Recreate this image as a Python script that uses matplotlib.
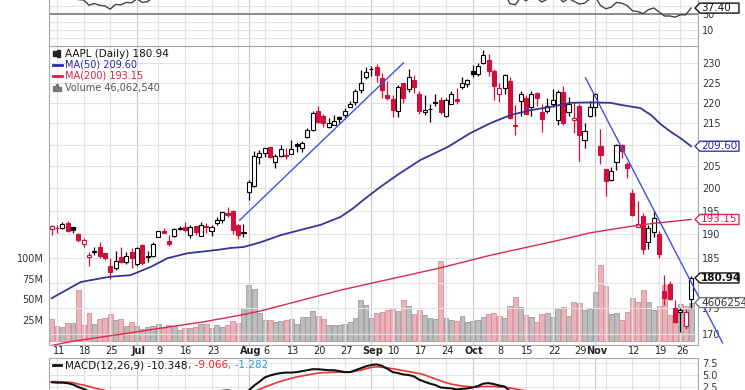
import matplotlib
matplotlib.use("Agg")
import matplotlib.pyplot as plt
from matplotlib.patches import Polygon, Rectangle
from matplotlib.ticker import FixedLocator, NullLocator
from matplotlib.transforms import blended_transform_factory

# --- AAPL daily, 2018-06-08 .. 2018-11-28 (x = trading day index) ---
prev_close = 193.46  # close before the first bar (Jun 7)

opens = [
    191.17,
    191.35, 191.39, 192.42, 191.55, 190.03,
    187.88, 185.14, 186.35, 187.25, 186.12,
    183.40, 182.99, 185.23, 184.10, 186.29,
    183.82, 187.79, 185.26, 185.42,
    189.50, 190.71, 188.50, 189.53, 191.08,
    191.52, 189.75, 191.78, 189.69, 191.78,
    190.68, 192.45, 193.06, 194.61, 194.99,
    191.90, 190.30, 199.13, 200.58, 207.03,
    208.00, 209.32, 206.05, 207.28, 207.36,
    207.70, 210.16, 209.22, 211.75, 213.44,
    218.10, 216.80, 214.10, 214.65, 216.60,
    217.15, 219.01, 220.15, 223.25, 226.51,
    228.41, 228.99, 226.23, 221.85,
    220.95, 218.01, 224.94, 223.52, 225.75,
    222.15, 217.79, 218.50, 220.24, 220.78,
    216.82, 219.75, 221.00, 223.82, 224.79,
    227.95, 227.25, 230.05, 230.78, 227.96,
    222.21, 223.64, 225.46, 214.52, 220.42,
    221.16, 218.93, 222.30, 217.86, 218.06,
    219.79, 215.83, 222.60, 217.71, 215.90,
    219.19, 211.15, 216.88, 219.05, 209.55,
    204.30, 201.92, 205.97, 209.98, 205.55,
    199.00, 191.63, 193.90, 188.39, 190.50,
    190.00, 178.37, 179.73, 174.94,
    174.24, 171.51, 176.73,
]
highs = [
    192.00,
    191.97, 192.61, 192.88, 191.57, 190.16,
    189.22, 186.33, 187.20, 188.35, 186.15,
    184.92, 186.53, 187.28, 186.21, 187.19,
    187.30, 187.95, 186.41, 188.43,
    190.68, 191.28, 189.78, 191.41, 191.84,
    192.65, 191.87, 191.80, 192.55, 192.43,
    191.96, 193.66, 194.85, 195.96, 195.19,
    192.20, 192.14, 201.76, 208.38, 208.74,
    209.25, 209.50, 207.81, 209.78, 209.10,
    210.95, 210.56, 210.74, 213.81, 217.95,
    219.18, 217.19, 216.36, 217.05, 216.90,
    218.74, 220.54, 223.49, 228.26, 228.87,
    229.18, 229.67, 227.35, 225.37,
    221.85, 224.30, 225.00, 228.35, 226.84,
    222.95, 221.85, 219.62, 222.28, 221.36,
    221.26, 222.82, 223.75, 226.44, 225.84,
    229.42, 230.00, 233.47, 232.35, 228.41,
    224.80, 227.27, 226.35, 219.50, 222.88,
    221.83, 222.99, 222.64, 219.74, 221.26,
    223.36, 223.25, 224.23, 221.38, 220.19,
    219.69, 215.18, 220.45, 222.36, 213.65,
    204.39, 204.72, 210.06, 210.12, 206.01,
    199.85, 197.18, 194.48, 191.97, 194.97,
    190.70, 181.47, 180.27, 176.60,
    174.95, 174.77, 181.29,
]
lows = [
    189.77,
    190.21, 191.15, 190.44, 190.22, 188.26,
    187.20, 183.45, 185.73, 184.94, 184.70,
    180.73, 182.54, 184.03, 183.80, 182.91,
    183.42, 183.54, 184.28, 185.20,
    189.30, 190.18, 187.61, 189.31, 190.90,
    190.42, 189.20, 189.93, 189.69, 190.17,
    189.56, 192.05, 192.43, 193.61, 190.10,
    189.07, 189.34, 197.31, 200.35, 205.48,
    207.07, 206.76, 204.52, 207.20, 206.67,
    207.70, 208.26, 208.33, 211.47, 213.16,
    215.11, 214.03, 213.84, 214.60, 215.11,
    216.33, 218.92, 219.41, 222.40, 226.00,
    226.63, 225.10, 221.30, 220.71,
    216.47, 216.56, 219.84, 222.57, 222.52,
    217.27, 217.12, 215.30, 219.15, 217.29,
    216.63, 219.70, 219.76, 223.54, 224.02,
    226.35, 226.63, 229.78, 226.73, 220.58,
    220.20, 222.25, 216.05, 212.32, 216.84,
    217.27, 216.76, 219.34, 213.00, 217.43,
    218.94, 214.70, 214.54, 216.75, 212.67,
    206.09, 209.27, 216.62, 216.81, 205.43,
    198.17, 201.69, 204.13, 206.75, 202.25,
    193.79, 191.45, 185.93, 186.90, 189.46,
    184.99, 175.51, 176.55, 172.10,
    170.26, 170.88, 174.93,
]
closes = [
    191.70,
    191.23, 192.28, 190.70, 190.80, 188.84,
    188.74, 185.69, 186.50, 185.46, 184.92,
    182.17, 184.43, 184.16, 185.50, 185.11,
    187.18, 183.92, 185.40, 187.97,
    190.58, 190.35, 187.88, 191.03, 191.33,
    190.91, 191.45, 190.40, 191.88, 191.44,
    191.61, 193.00, 194.82, 194.21, 190.98,
    189.91, 190.29, 201.50, 207.39, 207.99,
    209.07, 207.11, 207.25, 208.88, 207.53,
    208.87, 209.75, 210.24, 213.32, 217.58,
    215.46, 215.04, 215.05, 215.49, 216.16,
    217.94, 219.70, 222.98, 225.03, 227.63,
    228.36, 226.87, 223.10, 221.30,
    218.33, 223.85, 221.07, 226.41, 223.84,
    217.88, 218.24, 218.37, 220.03, 217.66,
    220.79, 222.19, 220.42, 224.95, 225.74,
    227.26, 229.28, 232.07, 227.99, 224.29,
    223.77, 226.87, 216.36, 214.45, 222.11,
    217.36, 222.15, 221.19, 216.02, 219.31,
    220.65, 222.73, 215.09, 219.80, 216.30,
    212.24, 213.30, 218.86, 222.22, 207.48,
    201.59, 203.77, 209.95, 208.49, 204.47,
    194.17, 192.23, 186.80, 191.41, 193.53,
    185.86, 176.98, 176.78, 172.29,
    174.62, 174.24, 180.94,
]
volumes = [  # millions of shares
    26.7,
    18.3, 16.9, 21.6, 21.6, 61.7,
    18.5, 33.5, 20.6, 25.7, 27.2,
    31.7, 24.6, 25.9, 17.4, 22.7,
    17.7, 13.9, 16.6, 17.5,
    19.8, 15.9, 18.8, 18.0, 12.5,
    15.0, 15.5, 16.4, 20.3, 20.7,
    15.9, 18.7, 16.8, 19.1, 24.0,
    21.0, 39.4, 67.9, 62.4, 33.4,
    25.4, 25.4, 22.5, 23.5, 24.6,
    25.9, 20.7, 28.8, 28.5, 35.4,
    30.3, 26.2, 19.0, 18.9, 18.5,
    20.5, 22.8, 27.3, 48.8, 43.3,
    27.4, 33.3, 34.3, 37.6,
    39.5, 35.7, 49.3, 41.7, 31.9,
    37.2, 31.6, 27.1, 26.6, 96.2,
    27.7, 24.6, 24.0, 30.2, 22.9,
    23.6, 24.8, 28.7, 32.0, 33.6,
    29.7, 26.9, 42.0, 53.1, 40.3,
    30.8, 29.2, 22.9, 32.6, 33.1,
    28.8, 38.7, 40.9, 29.9, 47.3,
    45.9, 36.7, 38.4, 58.3, 91.3,
    66.2, 31.9, 33.4, 25.4, 34.4,
    51.1, 46.9, 60.8, 46.5, 36.9,
    41.9, 67.8, 31.1, 23.6,
    44.9, 41.4, 46.1,
]

# moving averages
ma50_idx = [0, 5.4, 7.3, 11, 14.8, 18.6, 21.8, 25.5, 31.1, 33.6, 36, 37.3, 39.2, 43,
            46.7, 50.5, 54.2, 56.5, 58.5, 61.7, 64.9, 69.2, 74.3, 78.6, 82.4, 86.1, 89.9,
            93.6, 97.4, 101.1, 104.9, 106.8, 110.5, 112.5, 114.3, 116.3, 118, 120]
ma50_vals = [176.9, 180.1, 180.5, 181.2, 181.5, 183.2, 185.0, 186.0, 186.7, 187.1, 187.3,
             187.7, 188.3, 189.8, 190.9, 192.0, 193.7, 195.5, 197.4, 200.3, 203.0, 206.4,
             209.4, 212.7, 215.1, 217.0, 218.2, 219.0, 220.0, 220.1, 220.0, 219.5, 218.7,
             217.0, 214.8, 212.9, 211.5, 209.6]
ma200_idx = [0, 3.9, 14.8, 21.8, 28, 35.5, 39.2, 54.2, 73, 82.4, 95.5, 101.1, 110.5, 120]
ma200_vals = [167.8, 168.6, 170.2, 171.3, 172.2, 173.6, 174.4, 178.5, 183.0, 185.6, 188.8,
              190.3, 192.0, 193.15]

# hand-drawn trend lines (start/end index, start/end price)
trend_idx = [[35.3, 66.0], [100.2, 125.9]]
trend_px = [[193.0, 230.0], [226.2, 168.3]]

rsi = [
    58,
    56, 59, 53, 54, 48,
    47.5, 41, 43, 41, 40,
    36, 42, 41.5, 44.5, 44,
    49, 44.5, 45.5, 51,
    56, 55, 50, 56, 57,
    56, 57, 55, 57, 56,
    57, 60, 63, 61, 52,
    50, 51, 70, 76, 77,
    78, 74, 74, 75, 72,
    74, 75, 75, 78, 82,
    76, 75, 75, 75, 76,
    78, 80, 83, 85, 86,
    86, 80, 70, 66,
    60, 67, 63, 68, 63,
    53, 54, 54, 57, 53,
    57, 59, 56, 62, 63,
    64, 66, 69, 59, 53,
    52, 56, 43, 41.5, 51,
    46.5, 51, 50, 45, 48.5,
    50, 52, 45, 49.5, 46,
    42.5, 43.5, 49, 52, 40.5,
    36.5, 38.5, 44.5, 43.5, 40.5,
    34, 33, 30.5, 35.5, 37.5,
    32.5, 27.5, 27.5, 26,
    29, 29, 37.4,
]
macd = [
    3.5,
    3.4, 3.4, 3.3, 3.0, 2.5,
    2.1, 1.6, 1.2, 0.8, 0.5,
    0.0, -0.2, -0.4, -0.5, -0.6,
    -0.5, -0.7, -0.7, -0.5,
    -0.2, 0.0, 0.0, 0.3, 0.5,
    0.6, 0.8, 0.8, 1.0, 1.1,
    1.2, 1.4, 1.7, 1.8, 1.6,
    1.3, 1.1, 1.8, 2.8, 3.6,
    4.5, 4.9, 5.2, 5.4, 5.5,
    5.5, 5.6, 5.8, 6.0, 6.2,
    6.2, 6.1, 6.0, 6.0, 5.8,
    5.6, 5.6, 6.0, 6.4, 6.8,
    7.1, 7.2, 6.9, 6.3,
    5.6, 5.4, 5.1, 5.0, 4.7,
    4.0, 3.6, 3.2, 2.9, 2.4,
    2.3, 2.2, 2.0, 2.1, 2.2,
    2.4, 2.7, 3.2, 3.3, 3.1,
    2.8, 2.6, 1.6, 1.0, 0.9,
    0.5, 0.5, 0.4, -0.1, -0.2,
    -0.2, -0.1, -0.6, -0.6, -1.0,
    -1.6, -1.9, -1.7, -1.2, -2.5,
    -3.9, -4.7, -4.8, -4.9, -5.3,
    -6.4, -7.4, -8.6, -9.0, -9.0,
    -9.8, -11.0, -11.8, -12.6,
    -12.0, -11.5, -10.348,
]
signal = [
    3.6,
    3.6, 3.55, 3.5, 3.4, 3.1,
    2.9, 2.6, 2.3, 2.0, 1.8,
    1.5, 1.2, 1.0, 0.7, 0.5,
    0.3, 0.1, 0.0, -0.1,
    -0.1, -0.1, -0.1, 0.0, 0.1,
    0.2, 0.3, 0.4, 0.5, 0.6,
    0.7, 0.8, 1.0, 1.1, 1.2,
    1.2, 1.2, 1.3, 1.6, 2.0,
    2.5, 2.9, 3.3, 3.7, 4.0,
    4.3, 4.6, 4.8, 5.0, 5.2,
    5.4, 5.5, 5.5, 5.6, 5.6,
    5.6, 5.6, 5.8, 6.0, 6.3,
    6.6, 6.7, 6.6, 6.5,
    6.3, 6.1, 5.9, 5.7, 5.5,
    5.3, 5.0, 4.6, 4.2, 3.8,
    3.4, 3.1, 2.9, 2.7, 2.6,
    2.5, 2.5, 2.6, 2.6, 2.6,
    2.5, 2.5, 2.3, 2.1, 1.9,
    1.7, 1.5, 1.3, 1.0, 0.8,
    0.6, 0.4, 0.2, 0.0, -0.2,
    -0.5, -0.8, -1.0, -1.0, -1.3,
    -1.8, -2.3, -2.8, -3.2, -3.6,
    -4.2, -4.8, -5.5, -6.2, -6.7,
    -7.3, -7.9, -8.4, -8.9,
    -9.1, -9.1, -9.066,
]

# x axis labels and grid
date_idx = [1, 6, 11, 16, 20, 25, 30, 37, 40, 45, 50, 55, 60, 64, 69, 74, 79, 84,
            89, 94, 99, 102, 109, 114, 118]
date_txt = ["11", "18", "25", "Jul", "9", "16", "23", "Aug", "6", "13", "20", "27",
            "Sep", "10", "17", "24", "Oct", "8", "15", "22", "29", "Nov", "12", "19", "26"]
month_idx = [16, 37, 60, 79, 102]
week_idx = [1, 6, 11, 20, 25, 30, 35, 40, 45, 50, 55, 64, 69, 74, 84, 89, 94, 99, 104,
            109, 114, 118]
price_grid = [170, 175, 180, 185, 190, 195, 200, 205, 210, 215, 220, 225, 230]
price_labels = [170, 175, 185, 190, 195, 200, 205, 215, 220, 225, 230]  # 180/210 sit under tags
vol_ticks = [25, 50, 75, 100]

n = len(closes)
for arr in (opens, highs, lows, volumes, rsi, macd, signal):
    assert len(arr) == n, len(arr)

W_PX, H_PX = 745, 390
RED = "#d0103a"
GRID = "#e2e2e2"
MGRID = "#c8c8c8"
SPINE = "#a8a8a8"
TXT = "#333333"
plt.rcParams["font.family"] = "DejaVu Sans"

fig = plt.figure(figsize=(W_PX / 100, H_PX / 100), dpi=100)
left, width = 49 / W_PX, (698 - 49) / W_PX
xlim = (-0.5, 121.3)

ax_rsi = fig.add_axes([left, 1 - 46 / H_PX, width, 88 / H_PX])
ax = fig.add_axes([left, 1 - 345 / H_PX, width, 299 / H_PX])
ax_v = ax.twinx()
ax_m = fig.add_axes([left, 1 - 450 / H_PX, width, 92 / H_PX])


def frame(a):
    for s in a.spines.values():
        s.set_color(SPINE)
        s.set_linewidth(0.8)
    a.set_xlim(*xlim)
    a.xaxis.set_major_locator(NullLocator())
    for i in week_idx:
        a.axvline(i, color=GRID, lw=0.8, zorder=0)
    for i in month_idx:
        a.axvline(i, color=MGRID, lw=0.8, zorder=0)


for a in (ax_rsi, ax, ax_m):
    frame(a)

# ---------------- price panel ----------------
ax.set_zorder(2)
ax.patch.set_visible(False)
ax_v.set_zorder(1)
ax.set_yscale("log")
ax.set_ylim(167.9, 234.4)
ax.yaxis.set_major_locator(FixedLocator(price_labels))
ax.yaxis.set_minor_locator(NullLocator())
ax.set_yticklabels([str(t) for t in price_labels])
ax.yaxis.tick_right()
ax.tick_params(axis="y", length=0, pad=3, labelsize=7, labelcolor=TXT)
for t in price_grid:
    ax.axhline(t, color=GRID, lw=0.8, zorder=0)

prev = [prev_close] + closes[:-1]
for i in range(n):
    o, h, l, c = opens[i], highs[i], lows[i], closes[i]
    col = RED if c < prev[i] else "black"
    face = "white" if c >= o else col
    ax.vlines(i, l, h, color=col, lw=0.9, zorder=3)
    lo, hi = min(o, c), max(o, c)
    if hi - lo < 0.15:
        hi = lo + 0.15
    ax.add_patch(Rectangle((i - 0.38, lo), 0.76, hi - lo, facecolor=face,
                           edgecolor=col, lw=0.8, zorder=4))

ax.plot(ma50_idx, ma50_vals, color="#35359a", lw=1.3, zorder=5)
ax.plot(ma200_idx, ma200_vals, color="#e0284a", lw=1.0, zorder=5)
for xs, ys in zip(trend_idx, trend_px):
    ax.plot(xs, ys, color="#3d4fe8", lw=1.0, zorder=6, clip_on=False)

# volume overlay
vcols = [("#e9b3ba", "#d98c97") if closes[i] < prev[i] else ("#bdbdbd", "#9c9c9c")
         for i in range(n)]
ax_v.bar(range(n), volumes, width=0.92, color=[c[0] for c in vcols],
         edgecolor=[c[1] for c in vcols], lw=0.6)
ax_v.set_ylim(-5.2, 356.4)
ax_v.yaxis.set_major_locator(FixedLocator(vol_ticks))
ax_v.set_yticklabels([f"{t}M" for t in vol_ticks])
ax_v.yaxis.set_ticks_position("left")
ax_v.tick_params(axis="y", length=0, pad=4, labelsize=7, labelcolor=TXT)
ax_v.xaxis.set_major_locator(NullLocator())
for s in ax_v.spines.values():
    s.set_visible(False)

# legend block
ax.text(16 / 649, 1 - 8 / 299, "AAPL (Daily) 180.94", transform=ax.transAxes,
        fontsize=7.5, color="#111111", va="center", zorder=7)
ax.text(16 / 649, 1 - 19 / 299, "MA(50) 209.60", transform=ax.transAxes,
        fontsize=7, color="#2a2aa8", va="center", zorder=7)
ax.text(16 / 649, 1 - 30 / 299, "MA(200) 193.15", transform=ax.transAxes,
        fontsize=7, color="#d81e46", va="center", zorder=7)
ax.text(16 / 649, 1 - 42 / 299, "Volume 46,062,540", transform=ax.transAxes,
        fontsize=7, color="#555555", va="center", zorder=7)
for k, hh in enumerate([5, 7]):
    ax.add_patch(Rectangle(((53 + 4 * k - 49) / 649, 1 - (8 + hh / 2) / 299), 3 / 649,
                           hh / 299, transform=ax.transAxes, color="#222222", zorder=7))
ax.plot([4 / 649, 13 / 649], [1 - 19 / 299] * 2, transform=ax.transAxes, color="#2a2aa8", lw=2, zorder=7)
ax.plot([4 / 649, 13 / 649], [1 - 30 / 299] * 2, transform=ax.transAxes, color="#d81e46", lw=2, zorder=7)
for k, hh in enumerate([5, 7, 4]):
    ax.add_patch(Rectangle(((53 + 3 * k - 49) / 649, 1 - 45 / 299), 2 / 649, hh / 299,
                           transform=ax.transAxes, color="#777777", zorder=7))

# date labels
bt = blended_transform_factory(ax.transData, fig.transFigure)
for i, t in zip(date_idx, date_txt):
    bold = t in ("Jul", "Aug", "Sep", "Oct", "Nov")
    ax.text(i + 0.3, 1 - 351 / H_PX, t, transform=bt, ha="center", va="center", fontsize=7,
            color="#222222", fontweight="bold" if bold else "normal", clip_on=False)

# ---------------- RSI panel ----------------
ax_rsi.set_ylim(-10, 100)
for v in range(0, 100, 10):
    ax_rsi.axhline(v, color=GRID, lw=0.8, zorder=0)
ax_rsi.axhline(30, color="#7a7a7a", lw=1.2, zorder=1)
ax_rsi.plot(range(n), rsi, color="#444444", lw=1.0, zorder=3)
ax_rsi.yaxis.set_major_locator(FixedLocator([10, 30]))
ax_rsi.yaxis.tick_right()
ax_rsi.tick_params(axis="y", length=0, pad=3, labelsize=7, labelcolor=TXT)

# ---------------- MACD panel ----------------
ax_m.set_ylim(-10.63, 8.54)
for v in [7.5, 5.0, 2.5, 0.0, -2.5, -5.0, -7.5, -10.0]:
    ax_m.axhline(v, color=GRID, lw=0.8, zorder=0)
ax_m.plot(range(n), signal, color="#ee3333", lw=1.2, zorder=3)
ax_m.plot(range(n), macd, color="#111111", lw=1.5, zorder=4)
ax_m.yaxis.set_major_locator(FixedLocator([7.5, 5.0, 2.5]))
ax_m.set_yticklabels(["7.5", "5.0", "2.5"])
ax_m.yaxis.tick_right()
ax_m.tick_params(axis="y", length=0, pad=3, labelsize=7, labelcolor=TXT)

mt = ax_m.text(65 / W_PX, 1 - 365 / H_PX, "MACD(12,26,9) -10.348", transform=fig.transFigure,
               fontsize=7.5, color="#111111", va="center", zorder=7)
m2 = ax_m.annotate(", -9.066", xy=(1, 0), xycoords=mt, va="bottom", fontsize=7.5,
                   color="#ee2222", zorder=7)
ax_m.annotate(", -1.282", xy=(1, 0), xycoords=m2, va="bottom", fontsize=7.5,
              color="#3399dd", zorder=7)
fig.add_artist(plt.Line2D([53 / W_PX, 61 / W_PX], [1 - 365 / H_PX] * 2, color="#111111", lw=2))


# ---------------- value tags on the right ----------------
def tag(axis, value, text, edge, tcolor, bold=False, right=739):
    y = axis.transData.transform((0, value))[1] / fig.bbox.height
    h = 5 / H_PX
    pts = [(695 / W_PX, y), (700 / W_PX, y + h), (right / W_PX, y + h),
           (right / W_PX, y - h), (700 / W_PX, y - h)]
    fig.add_artist(Polygon(pts, closed=True, transform=fig.transFigure, facecolor="white",
                           edgecolor=edge, lw=1.0, zorder=10))
    fig.text(701 / W_PX, y, text, fontsize=7.5, color=tcolor, va="center",
             fontweight="bold" if bold else "normal", zorder=11)


tag(ax, 209.60, "209.60", "#3a3aa8", "#2a2a9a")
tag(ax, 193.15, "193.15", "#e0284a", "#d81e46")
tag(ax, 180.94, "180.94", "#111111", "#111111", bold=True)
tag(ax_v, 46.06254, "4606254", "#777777", "#333333", right=760)
tag(ax_rsi, 37.40, "37.40", "#111111", "#111111")

fig.savefig("out.png", dpi=100)
